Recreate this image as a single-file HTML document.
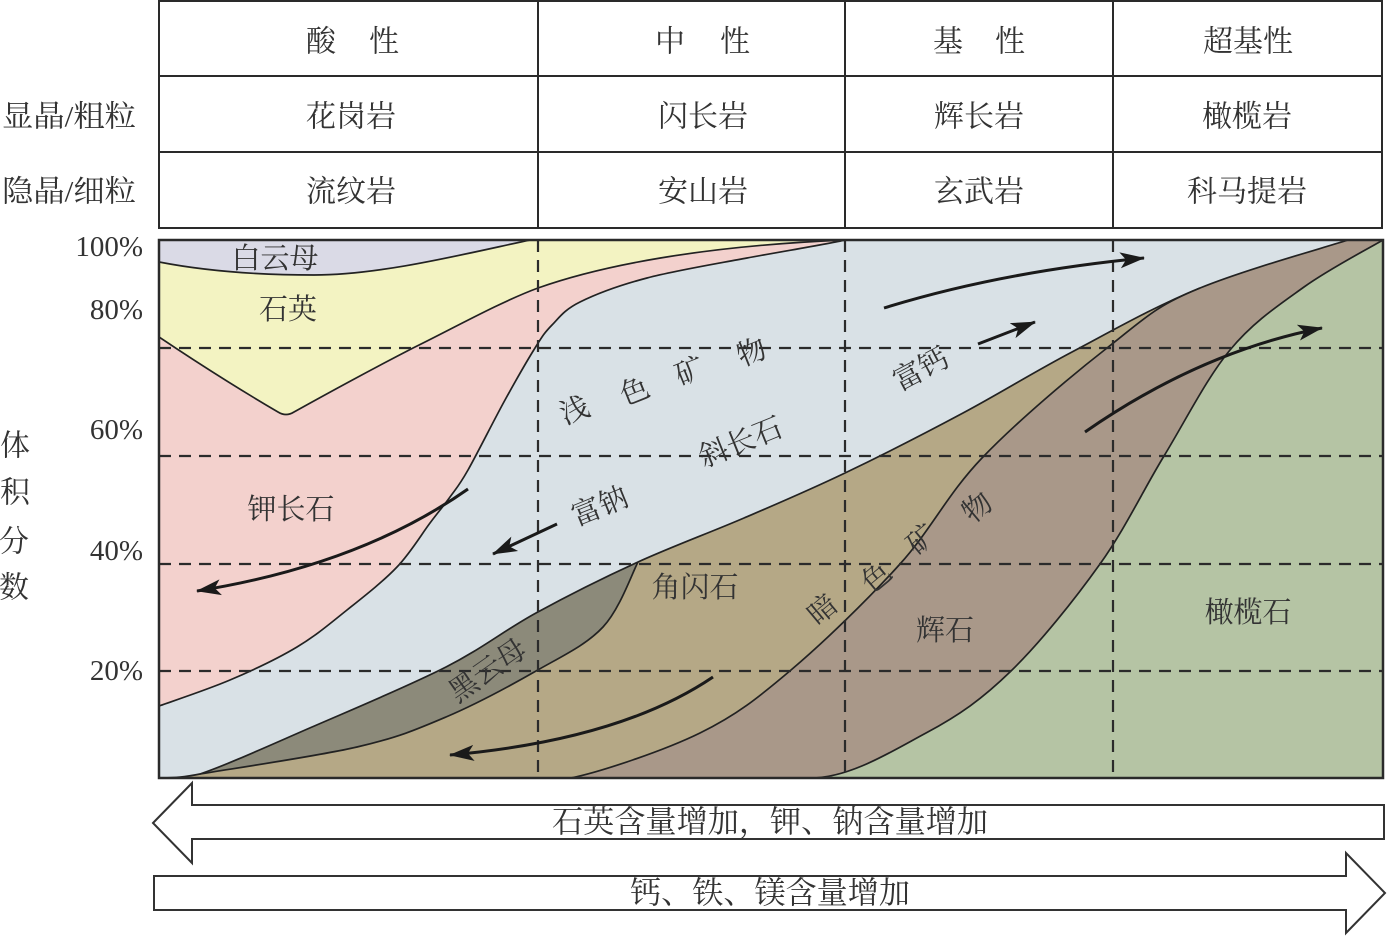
<!DOCTYPE html>
<html><head><meta charset="utf-8">
<style>
html,body{margin:0;padding:0;background:#fff;}
svg{display:block;}
text{font-family:"Liberation Serif","Noto Serif CJK SC",serif;fill:#333;}
</style></head><body>
<svg width="1387" height="936" viewBox="0 0 1387 936" xmlns="http://www.w3.org/2000/svg">
<defs>
<marker id="ah" markerUnits="userSpaceOnUse" markerWidth="30" markerHeight="20" refX="24" refY="9" orient="auto">
<path d="M0,1 L25,9 L0,17 L6,9 Z" fill="#1a1a1a"/>
</marker>
<clipPath id="cc"><rect x="159" y="240" width="1224" height="538"/></clipPath>
</defs>

<!-- Table -->
<g stroke="#2a2a2a" stroke-width="2" fill="none">
<rect x="159" y="1" width="1223" height="227"/>
<line x1="159" y1="76" x2="1382" y2="76"/>
<line x1="159" y1="152" x2="1382" y2="152"/>
<line x1="538" y1="1" x2="538" y2="228"/>
<line x1="845" y1="1" x2="845" y2="228"/>
<line x1="1113" y1="1" x2="1113" y2="228"/>
</g>
<g font-size="30" dominant-baseline="central" text-anchor="middle">
<text x="321" y="42">酸</text><text x="384" y="42">性</text>
<text x="670" y="42">中</text><text x="735" y="42">性</text>
<text x="948" y="42">基</text><text x="1010" y="42">性</text>
<text x="1248" y="42">超基性</text>
<text x="351" y="117">花岗岩</text>
<text x="703" y="117">闪长岩</text>
<text x="979" y="117">辉长岩</text>
<text x="1247" y="117">橄榄岩</text>
<text x="351" y="192">流纹岩</text>
<text x="703" y="192">安山岩</text>
<text x="979" y="192">玄武岩</text>
<text x="1247" y="192">科马提岩</text>
</g>
<g font-size="30" dominant-baseline="central">
<text x="2" y="117" textLength="134" lengthAdjust="spacingAndGlyphs">显晶/粗粒</text>
<text x="2" y="192" textLength="134" lengthAdjust="spacingAndGlyphs">隐晶/细粒</text>
</g>

<!-- Chart fills -->
<g clip-path="url(#cc)">
<rect x="159" y="240" width="1224" height="538" fill="#dadae6"/>
<!-- quartz -->
<path fill="#f3f3c2" d="M159,262 C200,270 250,275 314,275 C380,275 460,255 530,240 L1383,240 L1383,778 L159,778 Z"/>
<!-- K-feldspar -->
<path fill="#f3d1cd" d="M159,337 Q220,378 278,412 Q286,417 294,412 C330,392 380,365 413,348 C450,330 500,302 538,288 C600,266 700,246 845,240 L1383,240 L1383,778 L159,778 Z"/>
<!-- plagioclase -->
<path fill="#d9e1e6" d="M159,706 C170.8,701.7 207,689.8 230,680 C253,670.2 277.5,658.7 297,647 C316.5,635.3 330.3,623.3 347,610 C363.7,596.7 383.2,581.5 397,567 C410.8,552.5 421.2,534.7 430,523 C438.8,511.3 443.7,505.8 450,497 C456.3,488.2 458.8,486.2 468,470 C477.2,453.8 493.8,420.3 505,400 C516.2,379.7 527.2,360.5 535,348 C542.8,335.5 544.5,332.7 552,325 C559.5,317.3 564.2,309.8 580,302 C595.8,294.2 619.2,285.3 647,278 C674.8,270.7 714,264.2 747,258 C780,251.8 828.7,243.8 845,240 L1383,240 L1383,778 L159,778 Z"/>
<!-- biotite -->
<path fill="#8c8a7a" d="M159,778 C175,778 185,777 200,774 C225.5,765.5 271,744.8 312,727 C353,709.2 408.7,686 446,667 C483.3,648 504,630.5 536,613 C568,595.5 603.3,577.8 638,562 C672.7,546.2 709.5,532.8 744,518 C778.5,503.2 808.5,490.5 845,473 C881.5,455.5 925.2,433.2 963,413 C1000.8,392.8 1032.5,372.8 1072,352 C1111.5,331.2 1154,306.7 1200,288 C1246,269.3 1323.3,248 1348,240 L1383,240 L1383,778 Z"/>
<!-- hornblende -->
<path fill="#b5a886" d="M159,778 C175,778 185,777 200,774 C226.2,769.5 316,756.5 357,747 C398,737.5 416.2,729.7 446,717 C475.8,704.3 509.8,686 536,671 C562.2,656 586,645.2 603,627 C620,608.8 632.2,572.8 638,562 C672.7,546.2 709.5,532.8 744,518 C778.5,503.2 808.5,490.5 845,473 C881.5,455.5 925.2,433.2 963,413 C1000.8,392.8 1032.5,372.8 1072,352 C1111.5,331.2 1154,306.7 1200,288 C1246,269.3 1323.3,248 1348,240 L1383,240 L1383,778 Z"/>
<!-- pyroxene -->
<path fill="#a99889" d="M571,778 C600,772 663.3,751 700,733 C736.7,715 757.7,698.2 791,670 C824.3,641.8 868.2,599.3 900,564 C931.8,528.7 947.5,494 982,458 C1016.5,422 1070.7,376.3 1107,348 C1143.3,319.7 1154,306.7 1200,288 C1246,269.3 1323.3,248 1348,240 L1383,240 L1383,778 Z"/>
<!-- olivine -->
<path fill="#b5c4a4" d="M811,778 C850,778 892.7,750.8 926,733 C959.3,715.2 982,699.2 1011,671 C1040,642.8 1074.5,599.8 1100,564 C1125.5,528.2 1142.3,491.7 1164,456 C1185.7,420.3 1206.7,378.2 1230,350 C1253.3,321.8 1278.5,305.3 1304,287 C1329.5,268.7 1369.8,247.8 1383,240 L1383,778 Z"/>

<!-- boundary lines -->
<g fill="none" stroke="#222" stroke-width="1.7">
<path d="M159,262 C200,270 250,275 314,275 C380,275 460,255 530,240"/>
<path d="M159,337 Q220,378 278,412 Q286,417 294,412 C330,392 380,365 413,348 C450,330 500,302 538,288 C600,266 700,246 845,240"/>
<path d="M159,706 C170.8,701.7 207,689.8 230,680 C253,670.2 277.5,658.7 297,647 C316.5,635.3 330.3,623.3 347,610 C363.7,596.7 383.2,581.5 397,567 C410.8,552.5 421.2,534.7 430,523 C438.8,511.3 443.7,505.8 450,497 C456.3,488.2 458.8,486.2 468,470 C477.2,453.8 493.8,420.3 505,400 C516.2,379.7 527.2,360.5 535,348 C542.8,335.5 544.5,332.7 552,325 C559.5,317.3 564.2,309.8 580,302 C595.8,294.2 619.2,285.3 647,278 C674.8,270.7 714,264.2 747,258 C780,251.8 828.7,243.8 845,240"/>
<path d="M159,778 C175,778 185,777 200,774 C225.5,765.5 271,744.8 312,727 C353,709.2 408.7,686 446,667 C483.3,648 504,630.5 536,613 C568,595.5 603.3,577.8 638,562 C672.7,546.2 709.5,532.8 744,518 C778.5,503.2 808.5,490.5 845,473 C881.5,455.5 925.2,433.2 963,413 C1000.8,392.8 1032.5,372.8 1072,352 C1111.5,331.2 1154,306.7 1200,288 C1246,269.3 1323.3,248 1348,240"/>
<path d="M200,774 C226.2,769.5 316,756.5 357,747 C398,737.5 416.2,729.7 446,717 C475.8,704.3 509.8,686 536,671 C562.2,656 586,645.2 603,627 C620,608.8 632.2,572.8 638,562"/>
<path d="M571,778 C600,772 663.3,751 700,733 C736.7,715 757.7,698.2 791,670 C824.3,641.8 868.2,599.3 900,564 C931.8,528.7 947.5,494 982,458 C1016.5,422 1070.7,376.3 1107,348 C1143.3,319.7 1154,306.7 1200,288"/>
<path d="M811,778 C850,778 892.7,750.8 926,733 C959.3,715.2 982,699.2 1011,671 C1040,642.8 1074.5,599.8 1100,564 C1125.5,528.2 1142.3,491.7 1164,456 C1185.7,420.3 1206.7,378.2 1230,350 C1253.3,321.8 1278.5,305.3 1304,287 C1329.5,268.7 1369.8,247.8 1383,240"/>
</g>

<!-- dashed grid -->
<g stroke="#2b2b2b" stroke-width="2.2" stroke-dasharray="12 8" fill="none">
<line x1="159" y1="348" x2="1383" y2="348"/>
<line x1="159" y1="456" x2="1383" y2="456"/>
<line x1="159" y1="564" x2="1383" y2="564"/>
<line x1="159" y1="671" x2="1383" y2="671"/>
<line x1="538" y1="240" x2="538" y2="778"/>
<line x1="845" y1="240" x2="845" y2="778"/>
<line x1="1113" y1="240" x2="1113" y2="778"/>
</g>
</g>
<rect x="159" y="240" width="1224" height="538" fill="none" stroke="#2a2a2a" stroke-width="2.5"/>

<!-- flow arrows -->
<g fill="none" stroke="#1a1a1a" stroke-width="3" marker-end="url(#ah)">
<path d="M468,489 Q360,565 197,591"/>
<path d="M557,524 L493,554"/>
<path d="M713,677 Q620,740 450,755"/>
<path d="M884,308 Q1000,272 1144,258"/>
<path d="M978,344 L1035,322"/>
<path d="M1085,432 Q1200,352 1322,328"/>
</g>

<!-- axis labels -->
<g font-size="29" text-anchor="end" dominant-baseline="central">
<text x="143" y="247">100%</text>
<text x="143" y="310">80%</text>
<text x="143" y="430">60%</text>
<text x="143" y="551">40%</text>
<text x="143" y="671">20%</text>
</g>
<g font-size="30" text-anchor="middle" dominant-baseline="central">
<text x="15" y="446">体</text>
<text x="15" y="493">积</text>
<text x="14" y="542">分</text>
<text x="14" y="588">数</text>
</g>

<!-- mineral labels -->
<g font-size="29" text-anchor="middle" dominant-baseline="central" style="fill:#3a3a3a">
<text x="275" y="259">白云母</text>
<text x="288" y="310">石英</text>
<text x="291" y="510">钾长石</text>
<text x="575" y="411" transform="rotate(-22 575 411)">浅</text>
<text x="635" y="392" transform="rotate(-22 635 392)">色</text>
<text x="690" y="372" transform="rotate(-22 690 372)">矿</text>
<text x="752" y="353" transform="rotate(-22 752 353)">物</text>
<text x="741" y="443" transform="rotate(-22 741 443)">斜长石</text>
<text x="600" y="507" transform="rotate(-22 600 507)">富钠</text>
<text x="921" y="370" transform="rotate(-28 921 370)">富钙</text>
<text x="695" y="588">角闪石</text>
<text x="488" y="671" transform="rotate(-35 488 671)">黑云母</text>
<text x="823" y="610" transform="rotate(-40 823 610)">暗</text>
<text x="877" y="578" transform="rotate(-40 877 578)">色</text>
<text x="922" y="540" transform="rotate(-40 922 540)">矿</text>
<text x="978" y="508" transform="rotate(-40 978 508)">物</text>
<text x="945" y="631">辉石</text>
<text x="1248" y="613">橄榄石</text>
</g>

<!-- big arrows -->
<g fill="#fff" stroke="#333" stroke-width="2">
<path d="M153,823 L192,783 L192,805 L1384,805 L1384,839 L192,839 L192,863 Z"/>
<path d="M154,876 L1346,876 L1346,853 L1385,893 L1346,933 L1346,910 L154,910 Z"/>
</g>
<g font-size="31" text-anchor="middle" dominant-baseline="central">
<text x="770" y="822" textLength="436" lengthAdjust="spacingAndGlyphs">石英含量增加，钾、钠含量增加</text>
<text x="770" y="893" textLength="280" lengthAdjust="spacingAndGlyphs">钙、铁、镁含量增加</text>
</g>
</svg>
</body></html>
